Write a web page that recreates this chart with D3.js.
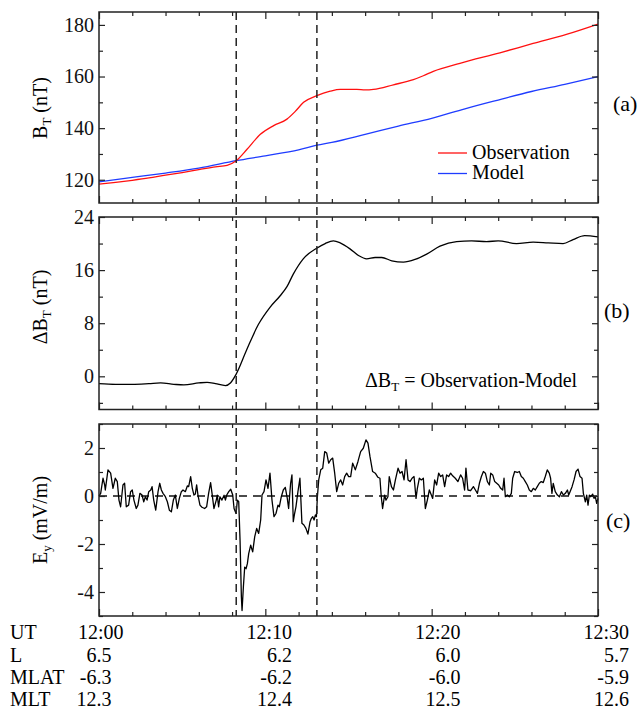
<!DOCTYPE html>
<html>
<head>
<meta charset="utf-8">
<script src="https://cdn.jsdelivr.net/npm/d3@7"></script>
<style>
  body { margin: 0; background: #fff; }
  svg { display: block; }
  text { font-family: "Liberation Serif", "Times New Roman", serif; }
</style>
</head>
<body>
<svg id="chart" width="642" height="710"></svg>
<script>
// minutes after 12:00 UT
const obsTime = [0, 1, 2, 3, 4, 5, 6, 7, 7.7, 8.25, 8.9, 9.7, 10.5, 11.3, 11.8, 12.3, 13.1, 13.9, 14.5, 15.5, 16, 16.5, 17.7, 18.9, 19.5, 20.1, 21.7, 24.1, 26.1, 28.1, 30];
const obsB = [118.3, 119.0, 119.8, 120.7, 121.8, 122.8, 123.9, 125.0, 125.6, 127.4, 131.8, 137.6, 141.0, 143.5, 146.5, 150.0, 152.6, 154.3, 155.0, 155.0, 154.8, 155.0, 156.8, 158.8, 160.3, 162.0, 165.1, 169.2, 172.8, 176.3, 180.3];

const modelTime = [0, 2, 4, 6, 8.25, 10, 12, 13.1, 14, 16, 18, 20, 22, 24, 26, 28, 30];
const modelB = [119.2, 120.9, 122.6, 124.5, 127.4, 129.3, 131.6, 133.4, 134.5, 137.6, 140.8, 143.8, 147.5, 150.9, 154.2, 157.0, 160.0];

const deltaTime = [0, 1, 2, 3, 3.7, 4.5, 5.1, 6.0, 6.5, 7.0, 7.6, 7.9, 8.24, 8.88, 9.58, 10.28, 10.88, 11.3, 11.68, 12.28, 13.09, 13.6, 14.09, 14.5, 15.09, 15.6, 16.09, 16.6, 17.0, 17.6, 18.3, 19.0, 19.7, 20.5, 21.5, 22.4, 23.3, 24.0, 25.1, 26.1, 27.0, 27.9, 28.5, 29.2, 30];
const deltaB = [-1.1, -1.2, -1.2, -1.1, -1.0, -1.2, -1.3, -1.0, -0.9, -1.1, -1.4, -1.0, 0.3, 4.0, 7.8, 10.4, 12.1, 13.5, 15.4, 17.7, 19.3, 20.0, 20.4, 20.1, 19.2, 18.2, 17.7, 17.9, 17.9, 17.4, 17.2, 17.6, 18.4, 19.6, 20.3, 20.4, 20.3, 20.4, 20.0, 20.2, 20.1, 20.0, 20.6, 21.2, 21.0];

const eyTime = [
  0, 0.10, 0.24, 0.34, 0.38, 0.54, 0.70, 0.84, 0.98, 1.10,
  1.20, 1.30, 1.44, 1.54, 1.64, 1.78, 1.90, 2.00, 2.10, 2.24,
  2.34, 2.46, 2.59, 2.69, 2.79, 2.89, 2.99, 3.11, 3.19, 3.29,
  3.41, 3.55, 3.65, 3.75, 3.85, 3.99, 4.11, 4.23, 4.35, 4.47,
  4.59, 4.71, 4.83, 4.95, 5.05, 5.19, 5.31, 5.39, 5.51, 5.61,
  5.71, 5.79, 5.87, 5.95, 6.07, 6.19, 6.35, 6.47, 6.59, 6.71,
  6.81, 6.91, 7.05, 7.11, 7.19, 7.27, 7.39, 7.52, 7.60, 7.68,
  7.80, 7.92, 8.04, 8.12, 8.24, 8.32, 8.40, 8.48, 8.56, 8.60,
  8.68, 8.76, 8.84, 8.92, 9.00, 9.12, 9.24, 9.36, 9.48, 9.60,
  9.72, 9.80, 9.92, 10.04, 10.16, 10.28, 10.40, 10.52, 10.64, 10.76,
  10.84, 10.96, 11.08, 11.20, 11.32, 11.40, 11.52, 11.60, 11.68, 11.76,
  11.84, 11.96, 12.08, 12.20, 12.32, 12.44, 12.56, 12.69, 12.77, 12.85,
  12.93, 13.01, 13.07, 13.13, 13.21, 13.33, 13.45, 13.57, 13.69, 13.81,
  13.93, 14.05, 14.17, 14.29, 14.41, 14.53, 14.65, 14.77, 14.89, 15.01,
  15.13, 15.25, 15.41, 15.57, 15.73, 15.89, 16.05, 16.17, 16.29, 16.45,
  16.61, 16.77, 16.89, 16.97, 17.05, 17.17, 17.25, 17.37, 17.45, 17.58,
  17.70, 17.82, 17.98, 18.10, 18.22, 18.34, 18.46, 18.58, 18.70, 18.82,
  18.94, 19.06, 19.14, 19.26, 19.38, 19.50, 19.62, 19.74, 19.86, 19.98,
  20.06, 20.18, 20.30, 20.42, 20.54, 20.66, 20.78, 20.90, 21.02, 21.14,
  21.26, 21.42, 21.58, 21.74, 21.86, 21.98, 22.06, 22.18, 22.34, 22.51,
  22.63, 22.75, 22.87, 22.99, 23.11, 23.23, 23.35, 23.47, 23.55, 23.67,
  23.79, 23.91, 24.03, 24.15, 24.27, 24.35, 24.43, 24.55, 24.67, 24.79,
  24.87, 24.99, 25.15, 25.27, 25.39, 25.51, 25.63, 25.75, 25.87, 25.99,
  26.11, 26.23, 26.35, 26.47, 26.59, 26.71, 26.83, 26.95, 27.07, 27.15,
  27.23, 27.31, 27.43, 27.56, 27.68, 27.80, 27.92, 28.04, 28.16, 28.24,
  28.32, 28.44, 28.56, 28.68, 28.80, 28.92, 29.04, 29.12, 29.24, 29.32,
  29.40, 29.48, 29.56, 29.68, 29.76, 29.84, 29.92, 30.00
];
const eyValue = [
  0.00, 0.11, 0.74, 0.46, 0.25, 1.09, 0.95, 0.32, 0.74, 0.60,
  -0.17, -0.45, 0.46, 0.53, -0.45, -0.38, 0.18, 0.25, -0.17, -0.52,
  -0.38, 0.11, 0.04, -0.24, -0.03, -0.17, 0.18, 0.25, 0.39, -0.17,
  -0.59, 0.18, 0.53, 0.25, 0.11, -0.03, -0.24, -0.59, -0.66, -0.17,
  0.04, -0.52, -0.10, 0.18, 0.25, 0.18, 0.42, 0.39, 0.81, 0.32,
  0.04, 0.08, 0.46, 0.04, -0.38, -0.47, -0.52, -0.45, 0.11, 0.56,
  0.04, -0.52, -0.17, 0.04, -0.45, -0.03, -0.17, 0.03, -0.17, 0.04,
  0.18, 0.28, 0.04, -0.52, -0.73, -0.17, -0.24, -1.84, -4.21, -4.77,
  -3.79, -2.96, -3.03, -2.82, -2.40, -2.05, -2.33, -1.70, -1.35, -1.56,
  -1.00, 0.04, 0.18, 0.67, 0.32, 0.95, -0.17, -0.86, -0.73, -0.38,
  -0.45, -0.03, 0.25, 0.36, -0.10, -0.52, 0.53, 0.88, -1.07, -0.73,
  -0.45, 0.18, 0.74, -1.14, -1.21, -1.35, -1.59, -1.07, -0.93, -0.86,
  -1.00, -0.79, -0.86, -0.03, 0.67, 1.09, 1.16, 1.85, 1.79, 1.37,
  1.51, 1.58, 0.95, 0.18, 0.53, 0.67, 0.46, 0.81, 0.95, 0.81,
  0.81, 1.37, 1.09, 1.44, 1.85, 1.99, 2.34, 2.20, 1.65, 1.02,
  0.95, 0.78, 0.74, -0.03, -0.52, 0.04, -0.17, -0.03, 0.81, 0.39,
  0.25, 0.67, 1.16, 0.95, 1.02, 0.67, 1.51, 0.67, 0.60, 0.74,
  0.81, -0.10, 0.32, 0.74, 0.67, 0.74, -0.52, -0.17, 0.25, 0.04,
  -0.10, 0.67, 0.46, 0.95, 0.81, 0.88, 0.39, 0.88, 0.81, 0.95,
  0.84, 0.74, 0.60, 0.88, 0.74, 0.25, 1.16, 0.25, 0.22, 0.39,
  0.25, 0.11, 0.53, 0.81, 1.02, 0.95, 0.60, 0.46, 0.95, 0.88,
  0.60, 0.53, 0.46, 0.32, 0.25, 0.74, -0.03, 0.04, -0.03, 0.11,
  0.74, 1.02, 0.98, 1.02, 0.81, 0.74, 0.60, 0.46, 0.25, 0.18,
  0.32, 0.25, 0.39, 0.53, 0.60, 0.56, 0.81, 1.09, 0.95, 0.74,
  0.11, 0.53, 0.18, 0.04, -0.03, 0.18, 0.04, 0.11, 0.25, 0.04,
  0.18, 0.39, 0.67, 1.02, 1.12, 0.81, 0.74, 0.11, -0.24, 0.04,
  -0.38, 0.04, -0.03, 0.08, -0.10, -0.03, -0.31, -0.10
];

const eventTimes = [8.25, 13.1];

// bottom table
const tableTimes = [0, 10, 20, 30];
const tableRows = ["UT", "L", "MLAT", "MLT"];
const utLabels = ["12:00", "12:10", "12:20", "12:30"];
const lValues = ["6.5", "6.2", "6.0", "5.7"];
const mlatValues = ["-6.3", "-6.2", "-6.0", "-5.9"];
const mltValues = ["12.3", "12.4", "12.5", "12.6"];

const bTicks = [120, 140, 160, 180], bMinor = [130, 150, 170];
const dTicks = [0, 8, 16, 24], dMinor = [-4, 4, 12, 20];
const eTicks = [-4, -2, 0, 2], eMinor = [-5, -3, -1, 1, 3];

const svg = d3.select("#chart");
const FONT = 20;

const x = d3.scaleLinear().domain([0, 30]).range([99, 598]);
const xMinor = d3.range(0, 31, 2);
const xMajor = [0, 10, 20, 30];

const panels = [
  { top: 12, bottom: 203, domain: [111, 185], ticks: bTicks, minor: bMinor },
  { top: 217, bottom: 409.5, domain: [-5, 24], ticks: dTicks, minor: dMinor },
  { top: 424, bottom: 616, domain: [-5, 3], ticks: eTicks, minor: eMinor }
];
panels.forEach(p => { p.y = d3.scaleLinear().domain(p.domain).range([p.bottom, p.top]); });

function frame(p) {
  const g = svg.append("g");
  const fmt = d => String(d);
  const ax = (gen, tx, ty) => {
    const a = g.append("g").attr("transform", `translate(${tx},${ty})`).call(gen);
    a.select(".domain").remove();
    a.selectAll("line").attr("stroke", "#222").attr("stroke-width", 1.2);
    a.selectAll("text").attr("font-size", FONT).attr("fill", "#111")
      .style("font-family", '"Liberation Serif", "Times New Roman", serif');
    return a;
  };
  ax(d3.axisLeft(p.y).tickValues(p.ticks).tickSize(-6).tickPadding(5).tickFormat(fmt), 99, 0);
  ax(d3.axisLeft(p.y).tickValues(p.minor).tickSize(-4).tickFormat(""), 99, 0);
  ax(d3.axisRight(p.y).tickValues(p.ticks).tickSize(-6).tickFormat(""), 598, 0);
  ax(d3.axisRight(p.y).tickValues(p.minor).tickSize(-4).tickFormat(""), 598, 0);
  ax(d3.axisTop(x).tickValues(xMinor.filter(v => !xMajor.includes(v))).tickSize(-4).tickFormat(""), 0, p.top);
  ax(d3.axisTop(x).tickValues(xMajor).tickSize(-7).tickFormat(""), 0, p.top);
  ax(d3.axisBottom(x).tickValues(xMinor.filter(v => !xMajor.includes(v))).tickSize(-4).tickFormat(""), 0, p.bottom);
  ax(d3.axisBottom(x).tickValues(xMajor).tickSize(-7).tickFormat(""), 0, p.bottom);
  g.append("rect")
    .attr("x", x(0)).attr("y", p.top)
    .attr("width", x(30) - x(0)).attr("height", p.bottom - p.top)
    .attr("fill", "none").attr("stroke", "#222").attr("stroke-width", 1.5);
}

const smooth = (ts, vs, y) => d3.line().curve(d3.curveMonotoneX)
  .x((d, i) => x(ts[i])).y(d => y(d))(vs);

// (a)
const pa = panels[0];
svg.append("path").attr("d", smooth(modelTime, modelB, pa.y))
  .attr("fill", "none").attr("stroke", "#1f3cff").attr("stroke-width", 1.3);
svg.append("path").attr("d", smooth(obsTime, obsB, pa.y))
  .attr("fill", "none").attr("stroke", "#ff1010").attr("stroke-width", 1.3);

// (b)
const pb = panels[1];
svg.append("path").attr("d", smooth(deltaTime, deltaB, pb.y))
  .attr("fill", "none").attr("stroke", "#000").attr("stroke-width", 1.3);

// (c)
const pc = panels[2];
svg.append("line")
  .attr("x1", x(0)).attr("x2", x(30)).attr("y1", pc.y(0)).attr("y2", pc.y(0))
  .attr("stroke", "#111").attr("stroke-width", 1.3).attr("stroke-dasharray", "8,6");
svg.append("path")
  .attr("d", d3.line().x((d, i) => x(eyTime[i])).y(d => pc.y(d))(eyValue))
  .attr("fill", "none").attr("stroke", "#000").attr("stroke-width", 1.3).attr("stroke-linejoin", "round");

panels.forEach(frame);

// event markers
svg.selectAll(".event").data(eventTimes).enter().append("line")
  .attr("x1", d => x(d)).attr("x2", d => x(d))
  .attr("y1", pa.top).attr("y2", pc.bottom)
  .attr("stroke", "#222").attr("stroke-width", 1.5).attr("stroke-dasharray", "8,5");

// legend
const legend = [["Observation", "#ff1010"], ["Model", "#1f3cff"]];
legend.forEach(([name, col], i) => {
  const ly = 153 + i * 20.5;
  svg.append("line").attr("x1", 438).attr("x2", 467).attr("y1", ly).attr("y2", ly)
    .attr("stroke", col).attr("stroke-width", 1.3);
  svg.append("text").attr("x", 472).attr("y", ly + 5.5).attr("font-size", FONT).text(name);
});

// formula note
const note = svg.append("text").attr("x", 365).attr("y", 387).attr("font-size", FONT);
note.append("tspan").text("ΔB");
note.append("tspan").attr("font-size", 13).attr("dy", 4).text("T");
note.append("tspan").attr("dy", -4).text(" = Observation-Model");

// y titles
function yTitle(cx, cy, main, sub, rest) {
  const t = svg.append("text").attr("transform", `translate(${cx},${cy}) rotate(-90)`)
    .attr("text-anchor", "middle").attr("font-size", FONT);
  t.append("tspan").text(main);
  t.append("tspan").attr("font-size", 13).attr("dy", 4).text(sub);
  t.append("tspan").attr("dy", -4).text(rest);
}
yTitle(47, 108, "B", "T", " (nT)");
yTitle(47, 307, "ΔB", "T", " (nT)");
yTitle(47, 520, "E", "y", " (mV/m)");

// panel tags
[["(a)", 613, 111], ["(b)", 604, 318], ["(c)", 606, 528]].forEach(([s, tx, ty]) => {
  svg.append("text").attr("x", tx).attr("y", ty).attr("font-size", 22).text(s);
});

// bottom table
const col = d3.scaleLinear().domain([10, 30]).range([292, 629]);
const rowY = [639, 661.5, 684, 706];
const rowVals = [utLabels, lValues, mlatValues, mltValues];
tableRows.forEach((name, r) => {
  svg.append("text").attr("x", 10).attr("y", rowY[r]).attr("font-size", FONT).text(name);
  svg.selectAll(null).data(tableTimes).enter().append("text")
    .attr("x", (d, i) => col(d) - (i === 0 && r > 0 ? 12 : 0))
    .attr("y", rowY[r])
    .attr("text-anchor", "end")
    .attr("font-size", FONT)
    .text((d, i) => rowVals[r][i]);
});
</script>
</body>
</html>
